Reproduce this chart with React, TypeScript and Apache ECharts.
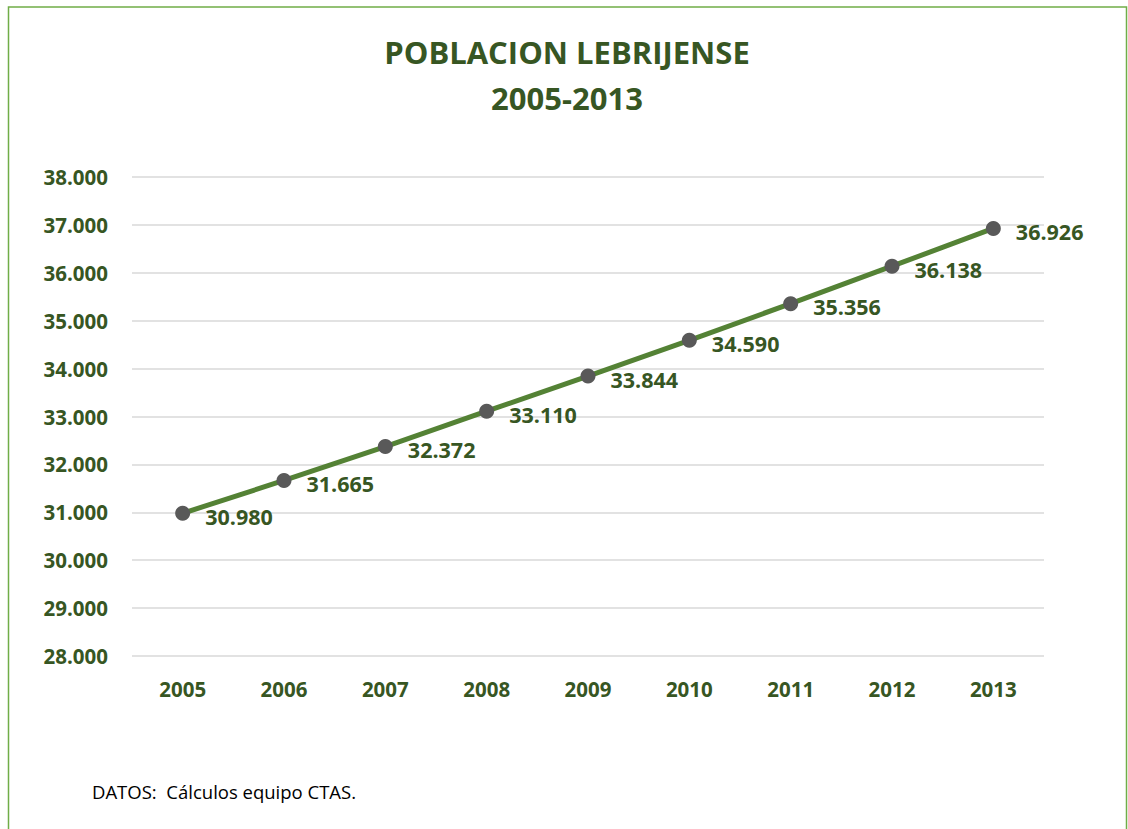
import React, { useEffect, useRef } from "react";
import * as echarts from "echarts";

const years = ["2005", "2006", "2007", "2008", "2009", "2010", "2011", "2012", "2013"];
const population = [30980, 31665, 32372, 33110, 33844, 34590, 35356, 36138, 36926];
const titleLines = ["POBLACION LEBRIJENSE", "2005-2013"];
const footnote = "DATOS:  Cálculos equipo CTAS.";

const fmt = (v: number) => {
  const s = Math.round(v).toString();
  return s.replace(/\B(?=(\d{3})+(?!\d))/g, ".");
};

const FONT = "'Open Sans', Lato, sans-serif";
const DARK = "#375623";

export default function App() {
  const ref = useRef<HTMLDivElement>(null);
  useEffect(() => {
    if (!ref.current) return;
    const chart = echarts.init(ref.current, undefined, { renderer: "svg" });
    chart.setOption({
      animation: false,
      backgroundColor: "#ffffff",
      title: {
        text: titleLines.join("\n"),
        left: 567,
        top: 29,
        padding: 0,
        textAlign: "center",
        textStyle: {
          color: DARK,
          fontFamily: FONT,
          fontWeight: "bold",
          fontSize: 31,
          lineHeight: 46,
        },
      },
      grid: { left: 132, right: 1128 - 1044, top: 177, bottom: 829 - 656, containLabel: false },
      xAxis: {
        type: "category",
        data: years,
        boundaryGap: true,
        axisLine: { show: false },
        axisTick: { show: false },
        axisLabel: {
          color: DARK,
          fontFamily: FONT,
          fontWeight: "bold",
          fontSize: 20.5,
          margin: 22,
        },
      },
      yAxis: {
        type: "value",
        min: 28000,
        max: 38000,
        interval: 1000,
        axisLine: { show: false },
        axisTick: { show: false },
        splitLine: { lineStyle: { color: "#d9d9d9", width: 1.5 } },
        axisLabel: {
          color: DARK,
          fontFamily: FONT,
          fontWeight: "bold",
          fontSize: 20.5,
          margin: 24,
          formatter: (v: number) => fmt(v),
        },
      },
      series: [
        {
          type: "line",
          data: population,
          lineStyle: { color: "#548235", width: 5 },
          itemStyle: { color: "#595959" },
          symbol: "circle",
          symbolSize: 15,
          label: {
            show: true,
            position: "right",
            distance: 15,
            offset: [0, 3],
            color: DARK,
            fontFamily: FONT,
            fontWeight: "bold",
            fontSize: 21.5,
            formatter: (p: any) => fmt(p.value),
          },
        },
      ],
      graphic: [
        {
          type: "rect",
          shape: { x: 8.5, y: 7, width: 1118, height: 900 },
          style: { fill: "none", stroke: "#70AD47", lineWidth: 1.5 },
          silent: true,
        },
        {
          type: "text",
          x: 92,
          y: 791,
          style: {
            text: footnote,
            fill: "#000000",
            font: `18.5px ${FONT}`,
            verticalAlign: "middle",
          },
        },
      ],
    });
    return () => chart.dispose();
  }, []);
  return (
    <div
      ref={ref}
      style={{ position: "absolute", left: 0, top: 0, width: 1128, height: 829 }}
    />
  );
}
